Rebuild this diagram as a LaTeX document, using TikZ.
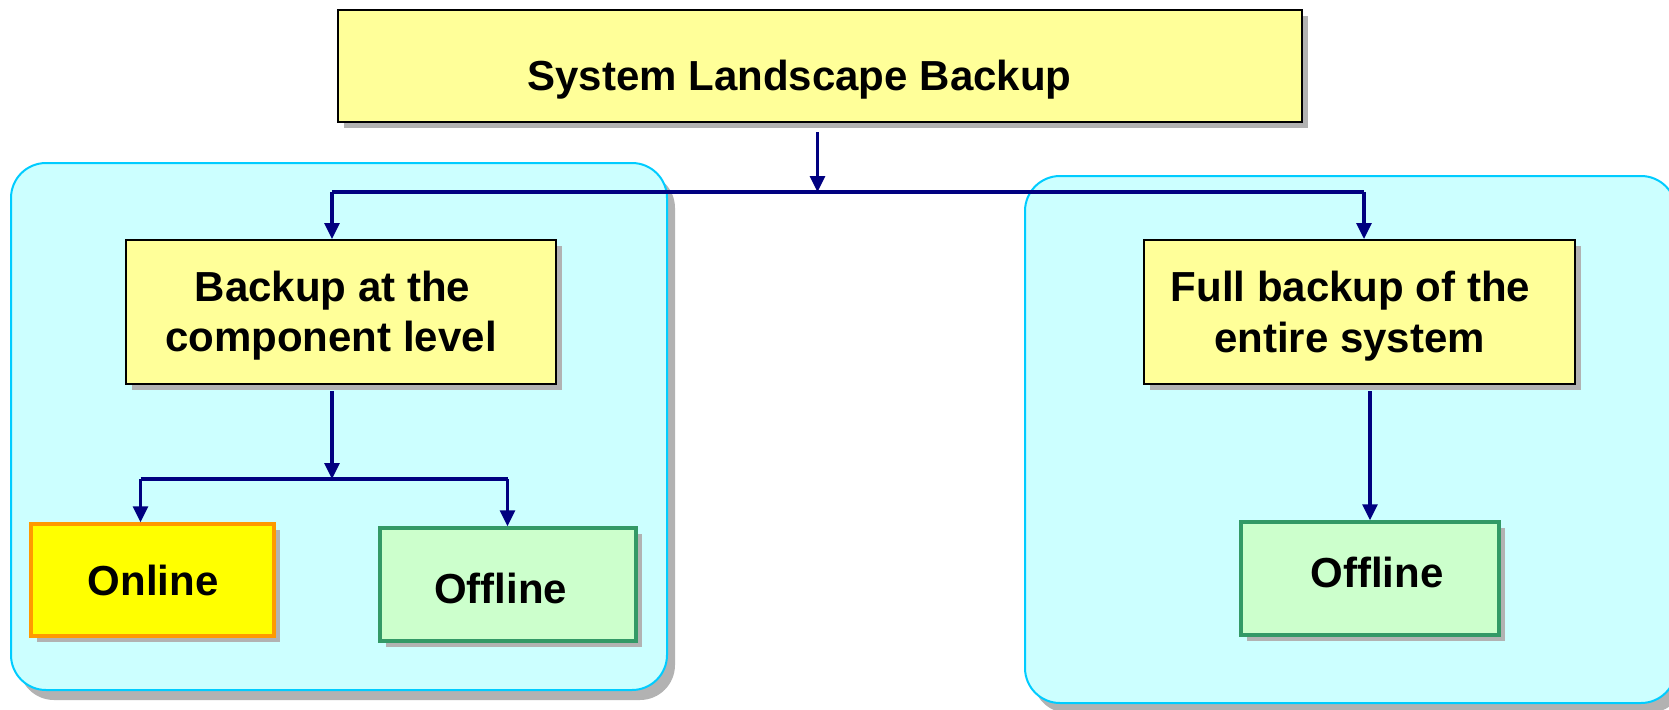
\documentclass[tikz,border=0pt]{standalone}
\usepackage{fontspec}
\setmainfont{Liberation Sans}
\usetikzlibrary{arrows.meta,shadows}
\definecolor{paleyel}{HTML}{FFFF99}
\definecolor{brightyel}{HTML}{FFFF00}
\definecolor{orangeb}{HTML}{FF9900}
\definecolor{lightgrn}{HTML}{CCFFCC}
\definecolor{grnb}{HTML}{339966}
\definecolor{grpfill}{HTML}{CCFFFF}
\definecolor{grpline}{HTML}{00CCFF}
\definecolor{navyc}{HTML}{000080}
\definecolor{shadowgray}{HTML}{B2B2B2}
\tikzset{
  boxshadow/.style={drop shadow={shadow xshift=6pt,shadow yshift=-6pt,fill=shadowgray,opacity=1}},
  grpshadow/.style={drop shadow={shadow xshift=8pt,shadow yshift=-10pt,fill=shadowgray,opacity=1}},
  grpbox/.style={rectangle,rounded corners=35pt,draw=grpline,line width=2pt,fill=grpfill,inner sep=0pt,grpshadow},
  mainbox/.style={rectangle,draw=black,line width=2pt,fill=paleyel,inner sep=0pt,boxshadow},
  onlinebox/.style={rectangle,draw=orangeb,line width=3.5pt,fill=brightyel,inner sep=0pt,boxshadow},
  offlinebox/.style={rectangle,draw=grnb,line width=3.5pt,fill=lightgrn,inner sep=0pt,boxshadow},
  conn/.style={draw=navyc,line width=3.2pt},
  arrowc/.style={conn,-{Triangle[length=16pt,width=15pt]}},
  lbl/.style={font=\fontsize{42}{50}\selectfont\bfseries,inner sep=0pt,anchor=base}
}
\begin{document}
\begin{tikzpicture}[x=1pt,y=-1pt]
\clip (0,0) rectangle (1669,709);
\fill[white] (0,0) rectangle (1669,709);
% groups
\node[grpbox,minimum width=656pt,minimum height=527pt] (gl) at (339,426.5) {};
\node[grpbox,minimum width=651pt,minimum height=527pt] (gr) at (1350.5,439.5) {};
% boxes
\node[mainbox,minimum width=964pt,minimum height=112pt] (top) at (820,66) {};
\node[mainbox,minimum width=430pt,minimum height=144pt] (comp) at (341,312) {};
\node[mainbox,minimum width=431pt,minimum height=144pt] (full) at (1359.5,312) {};
\node[onlinebox,minimum width=243pt,minimum height=112pt] (online) at (152.5,580) {};
\node[offlinebox,minimum width=256pt,minimum height=113pt] (offl) at (508,584.5) {};
\node[offlinebox,minimum width=258pt,minimum height=113pt] (offr) at (1370,578.5) {};
% connectors
\coordinate (j1) at (817.5,192);
\coordinate (jl) at (332,192);
\coordinate (jr) at (1364,192);
\coordinate (j2) at (332,479);
\coordinate (j2l) at (140.5,479);
\coordinate (j2r) at (507.5,479);
\draw[conn] (jl) -- (jr);
\draw[arrowc] (top.south -| j1) ++(0,9) -- (j1);
\draw[arrowc] (jl) -- (jl |- comp.north);
\draw[arrowc] (jr) -- (jr |- full.north);
\draw[arrowc] (comp.south -| j2) ++(0,6) -- (j2);
\draw[conn] (j2l) -- (j2r);
\draw[arrowc] (j2l) -- (j2l |- online.north);
\draw[arrowc] (j2r) -- (j2r |- offl.north);
\draw[arrowc] (offr.north |- full.south) ++(0,6) -- (offr.north);
% texts
\node[lbl] (ttop) at (799.5,90) {System Landscape Backup};
\node[lbl] (tcomp1) at (332.5,301) {Backup at the};
\node[lbl] (tcomp2) at (331,351) {component level};
\node[lbl] (tfull1) at (1350.5,301) {Full backup of the};
\node[lbl] (tfull2) at (1349.5,352) {entire system};
\node[lbl] (tonline) at (153,595.5) {Online};
\node[lbl] (tofflL) at (500.5,603) {Offline};
\node[lbl] (tofflR) at (1377,587) {Offline};
\end{tikzpicture}
\end{document}
